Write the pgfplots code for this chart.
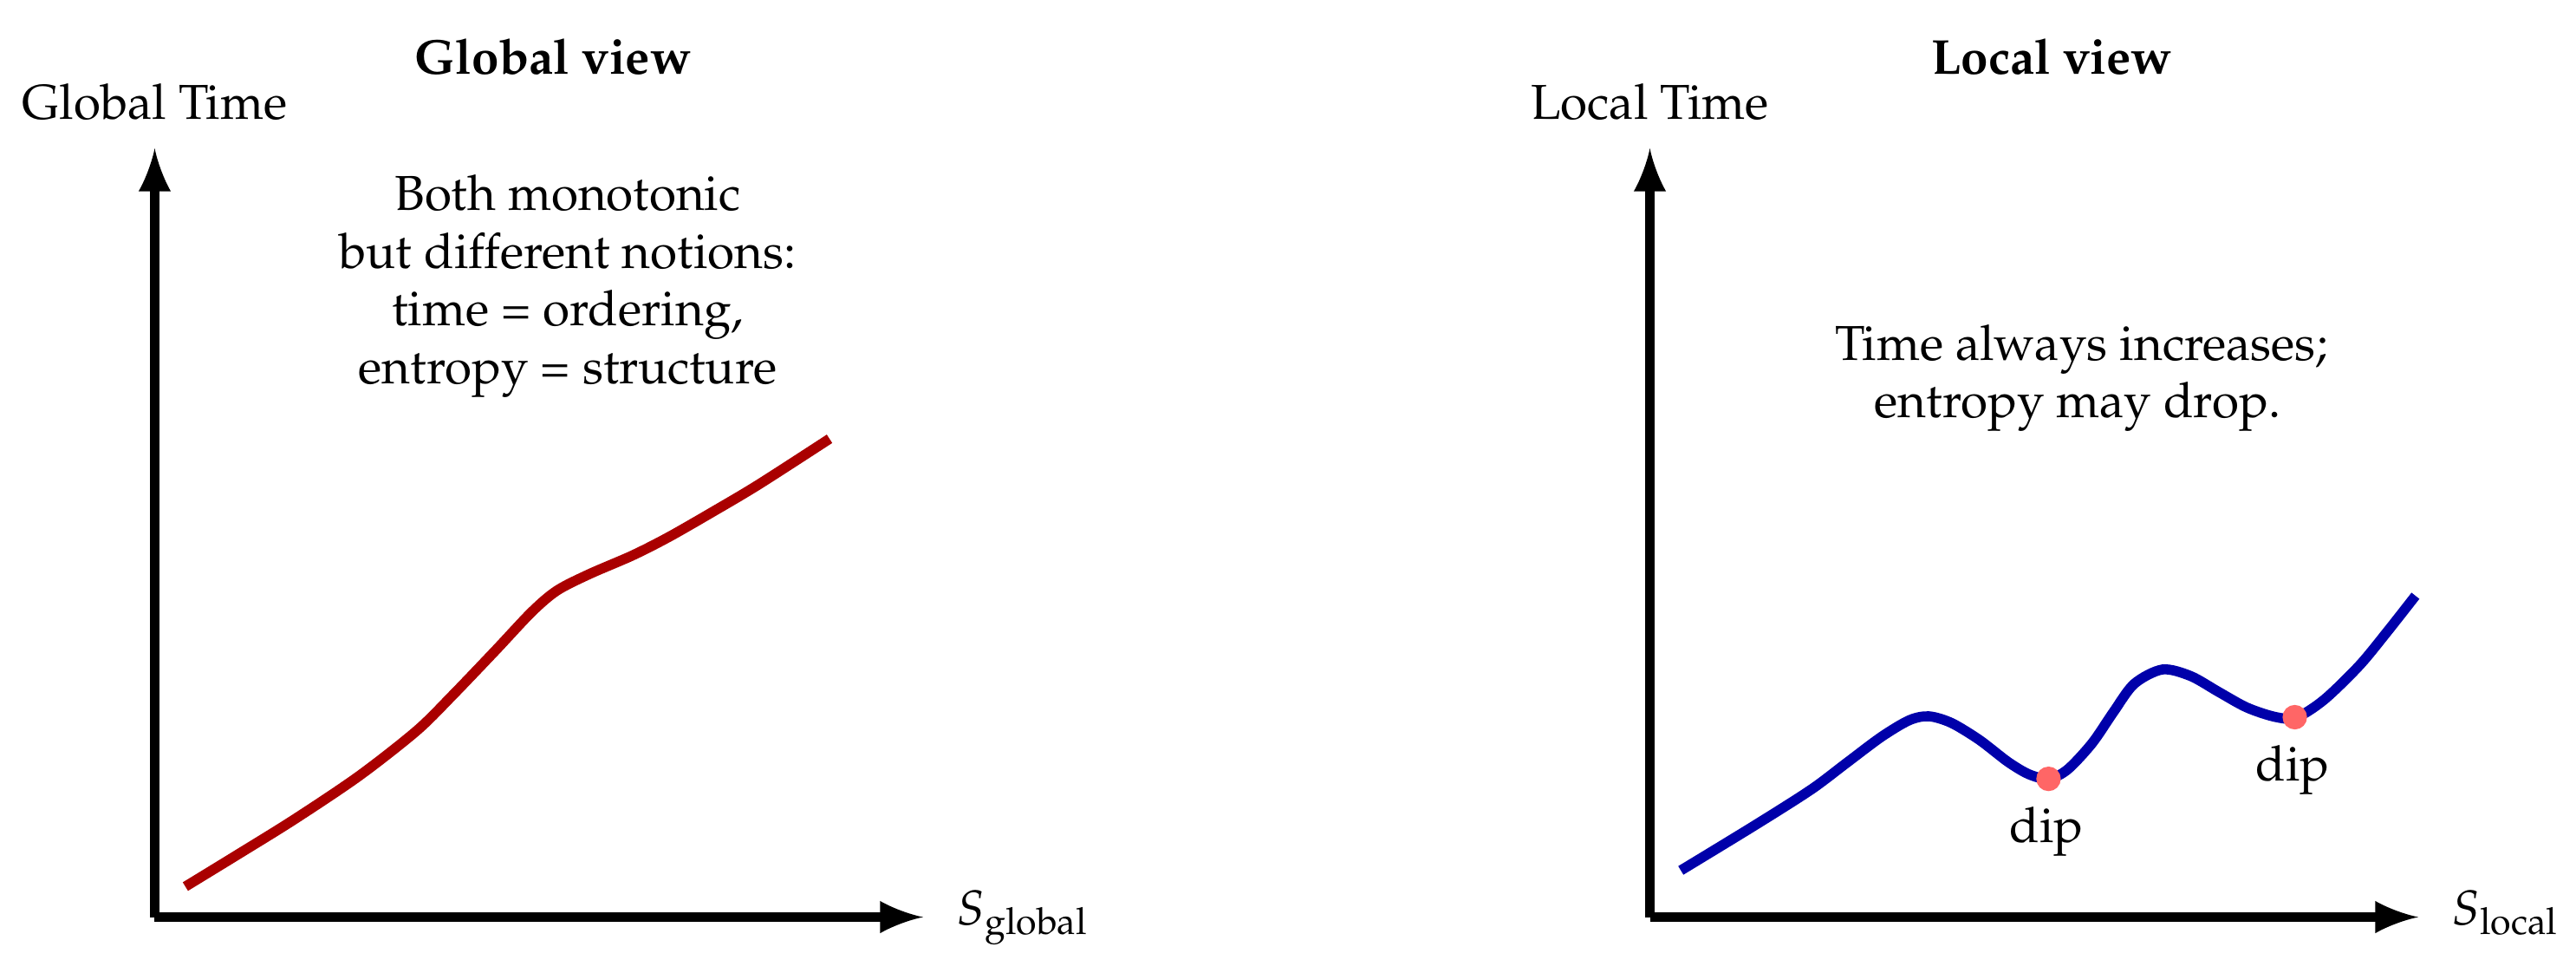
\documentclass[border=0pt]{standalone}
\usepackage[T1]{fontenc}
\usepackage{mathpazo}
\usepackage{amsmath}
\usepackage{pgfplots}
\pgfplotsset{compat=1.18}
\definecolor{cRed}{HTML}{AA0000}
\definecolor{cBlue}{HTML}{0000AA}
\definecolor{cDip}{HTML}{FF6666}
\pgfplotsset{
  myaxis/.style={
    anchor=origin, x=17.70pt, y=17.70pt,
    xmin=0, xmax=8.865, ymin=0, ymax=8.865,
    enlargelimits=false, clip=false,
    axis lines=left,
    axis line style={line width=2pt},
    every outer x axis line/.append style={-latex},
    every outer y axis line/.append style={-latex},
    xtick=\empty, ytick=\empty,
  }
}
\begin{document}
\begin{tikzpicture}
\useasboundingbox (0,0) rectangle (526.02pt,-198.41pt);
% ---------- Global view ----------
\begin{axis}[myaxis, at={(31.59pt,-187.17pt)}]
\addplot[cRed, line width=2.05pt, smooth, tension=0.5] coordinates {
(0.354,0.352) (0.951,0.717) (1.615,1.129) (2.361,1.630) (3.024,2.150)
(3.439,2.560) (3.936,3.079) (4.351,3.520) (4.641,3.765) (5.014,3.955)
(5.512,4.170) (5.926,4.380) (6.424,4.665) (6.963,4.985) (7.785,5.515)};
\node[anchor=base, font=\bfseries] at (axis cs:4.595,9.715) {Global view};
\node[anchor=base] at (axis cs:0,9.20) {Global Time};
\node[anchor=base] at (axis cs:4.765,8.145) {Both monotonic};
\node[anchor=base] at (axis cs:4.765,7.475) {but different notions:};
\node[anchor=base] at (axis cs:4.765,6.815) {time = ordering,};
\node[anchor=base] at (axis cs:4.765,6.145) {entropy = structure};
\node[anchor=base west] at (axis cs:9.055,-0.085) {$S_{\text{global}}$};
\end{axis}
% ---------- Local view ----------
\begin{axis}[myaxis, at={(336.90pt,-187.17pt)}]
\addplot[cBlue, line width=2.05pt, smooth, tension=0.5] coordinates {
(0.357,0.538) (1.209,1.057) (1.858,1.469) (2.263,1.773) (2.669,2.077)
(2.993,2.270) (3.220,2.315) (3.480,2.238) (3.804,2.041) (4.129,1.791)
(4.372,1.647) (4.599,1.594) (4.818,1.701) (5.102,2.005) (5.345,2.360)
(5.588,2.690) (5.913,2.855) (6.237,2.780) (6.562,2.596) (6.886,2.417)
(7.210,2.309) (7.454,2.300) (7.778,2.506) (8.184,2.900) (8.508,3.293)
(8.832,3.705)};
\addplot[only marks, mark=*, mark size=2.3pt, color=cDip] coordinates {
(4.599,1.594) (7.440,2.305)};
\node[anchor=base, font=\bfseries] at (axis cs:4.635,9.715) {Local view};
\node[anchor=base] at (axis cs:0,9.20) {Local Time};
\node[anchor=base] at (axis cs:4.98,6.415) {Time always increases;};
\node[anchor=base] at (axis cs:4.935,5.755) {entropy may drop.};
\node[anchor=base] at (axis cs:4.575,0.865) {dip};
\node[anchor=base] at (axis cs:7.415,1.575) {dip};
\node[anchor=base west] at (axis cs:9.055,-0.085) {$S_{\text{local}}$};
\end{axis}
\end{tikzpicture}
\end{document}
